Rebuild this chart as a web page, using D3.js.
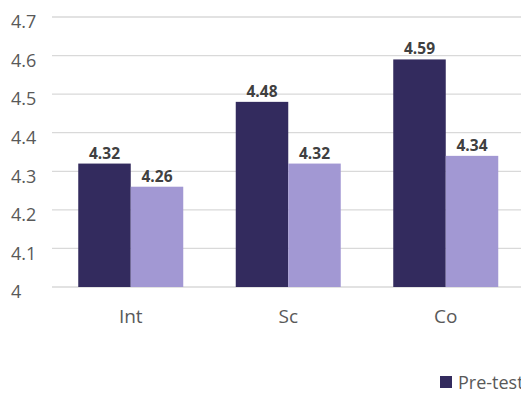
<!DOCTYPE html>
<html><head><meta charset="utf-8">
<script src="https://cdn.jsdelivr.net/npm/d3@7"></script>
<style>body{margin:0;background:#fff;overflow:hidden}svg{display:block}</style>
</head><body>
<script>
const categories = ["Int", "Sc", "Co"];
const seriesNames = ["Pre-test", "Post-test"];
const preTest = [4.32, 4.48, 4.59];
const postTest = [4.26, 4.32, 4.34];
const yTicks = [4, 4.1, 4.2, 4.3, 4.4, 4.5, 4.6, 4.7];
const colors = ["#332b5e", "#a298d3"];

const W = 521, H = 394;
const svg = d3.select("body").append("svg").attr("width", W).attr("height", H);
const font = "'Open Sans', 'Noto Sans', sans-serif";

const y = d3.scaleLinear().domain([4, 4.7]).range([287, 17]);
const x = d3.scaleBand().domain(categories).range([52, 524.5]).paddingInner(1/3).paddingOuter(1/6);
const xs = d3.scaleBand().domain(seriesNames).range([0, x.bandwidth()]);

// gridlines
svg.append("g").selectAll("line").data(yTicks).join("line")
  .attr("x1", 52).attr("x2", W).attr("y1", d => y(d)).attr("y2", d => y(d))
  .attr("stroke", "#d9d9d9").attr("stroke-width", 1.3);

// y axis labels
const yAxis = d3.axisLeft(y).tickValues(yTicks).tickSize(0).tickPadding(0).tickFormat(d => String(+d.toFixed(1)));
const gy = svg.append("g").attr("transform", "translate(0,0)").call(yAxis);
gy.select(".domain").remove();
gy.selectAll("text").attr("text-anchor", "start").attr("x", 11).attr("dy", "0.6em")
  .style("font-family", font).style("font-size", "18px").attr("fill", "#595959");

// bars
const data = categories.map((c, i) => ({c, vals: [preTest[i], postTest[i]]}));
const groups = svg.append("g").selectAll("g").data(data).join("g")
  .attr("transform", d => `translate(${x(d.c)},0)`);
groups.selectAll("rect").data(d => d.vals.map((v, j) => ({v, s: seriesNames[j], j}))).join("rect")
  .attr("x", d => xs(d.s)).attr("width", xs.bandwidth())
  .attr("y", d => y(d.v)).attr("height", d => y(4) - y(d.v))
  .attr("fill", d => colors[d.j]);
groups.selectAll("text").data(d => d.vals.map((v, j) => ({v, s: seriesNames[j], j}))).join("text")
  .attr("x", d => xs(d.s) + xs.bandwidth() / 2).attr("y", d => y(d.v) - 5)
  .attr("text-anchor", "middle").style("font-family", font).style("font-size", "15.5px").style("font-weight", "bold")
  .attr("fill", "#404040").text(d => d.v.toFixed(2));

// x axis labels
const xAxis = d3.axisBottom(x).tickSize(0).tickPadding(0);
const gx = svg.append("g").attr("transform", "translate(0,287)").call(xAxis);
gx.select(".domain").remove();
gx.selectAll("text").attr("dy", 0).attr("y", 36).style("font-family", font).style("font-size", "19px").attr("fill", "#595959");

// legend
const leg = svg.append("g").attr("transform", "translate(440,376)");
seriesNames.forEach((s, i) => {
  const g = leg.append("g").attr("transform", `translate(${i * 100},0)`);
  g.append("rect").attr("width", 12).attr("height", 12).attr("fill", colors[i]);
  g.append("text").attr("x", 18).attr("y", 13).style("font-family", font).style("font-size", "18px").attr("fill", "#595959").text(s);
});
</script>
</body></html>
